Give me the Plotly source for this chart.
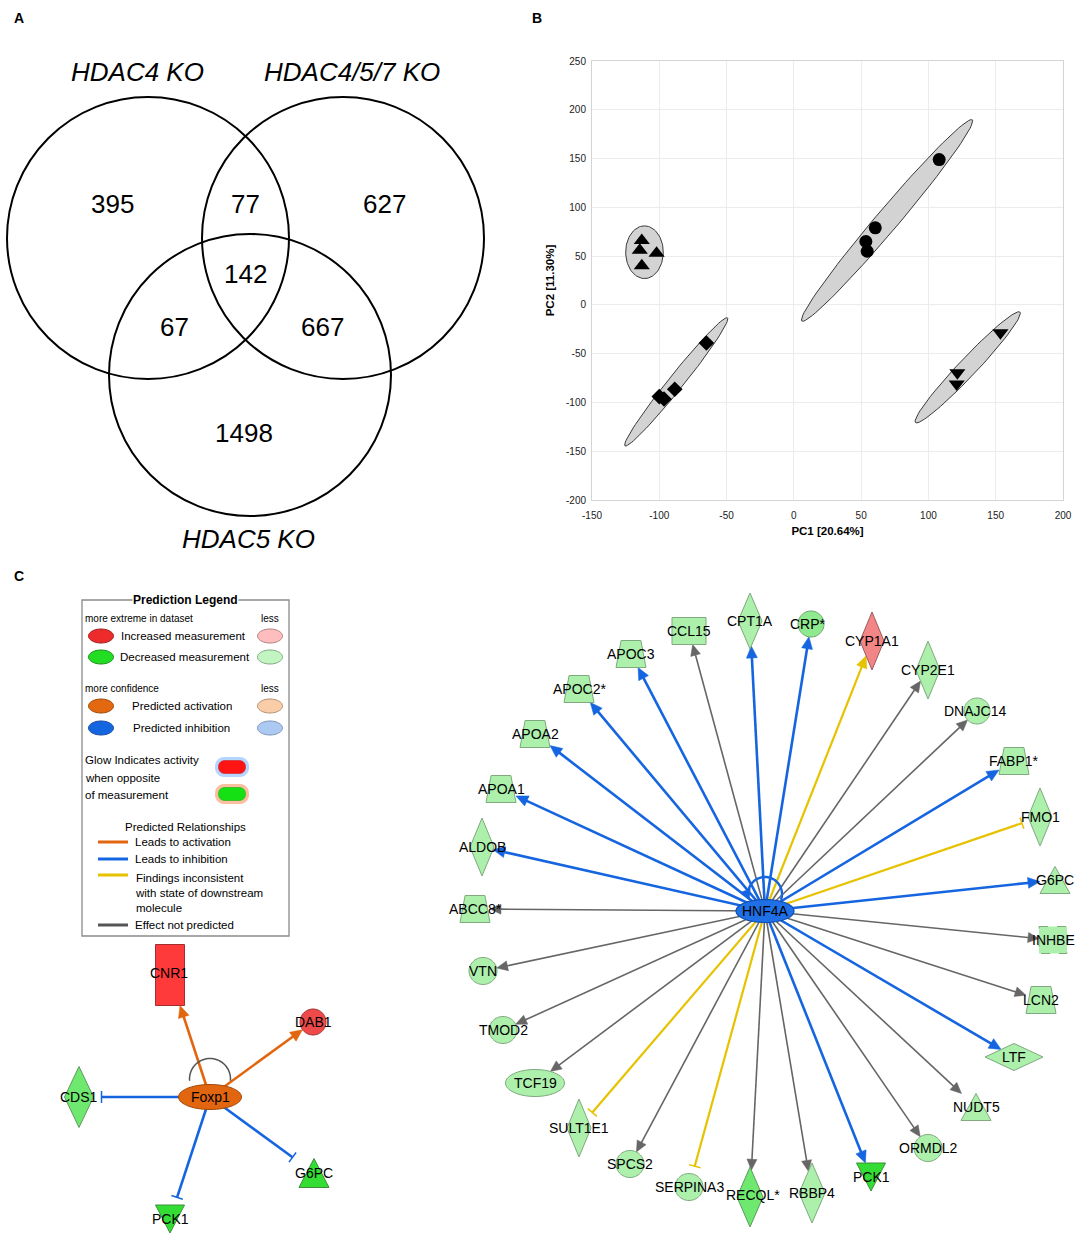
import math
import plotly.graph_objects as go

W, H = 1084, 1247
FONT = "Liberation Sans, Arial, Helvetica, sans-serif"

# ======================= DATA =======================
# ---- Panel A: Venn diagram
venn_sets = ["HDAC4 KO", "HDAC4/5/7 KO", "HDAC5 KO"]
venn_regions = ["HDAC4 only", "HDAC4 & HDAC4/5/7", "HDAC4/5/7 only", "all three",
                "HDAC4 & HDAC5", "HDAC4/5/7 & HDAC5", "HDAC5 only"]
venn_counts = [395, 77, 627, 142, 67, 667, 1498]

# ---- Panel B: PCA scores
pc1_title = "PC1 [20.64%]"
pc2_title = "PC2 [11.30%]"
pc1_ticks = [-150, -100, -50, 0, 50, 100, 150, 200]
pc2_ticks = [-200, -150, -100, -50, 0, 50, 100, 150, 200, 250]
g_tri_pc1 = [-113, -114.5, -102, -113]
g_tri_pc2 = [66, 56, 53, 40]
g_circ_pc1 = [108, 60.5, 53.5, 54.5]
g_circ_pc2 = [149, 79, 65, 55]
g_diam_pc1 = [-65, -88.5, -100, -96.5]
g_diam_pc2 = [-39, -86.5, -94, -96.5]
g_inv_pc1 = [153.5, 121.5, 121]
g_inv_pc2 = [-28.5, -69.5, -81]
# confidence ellipses: both ends of the major axis (PC1, PC2, PC1, PC2)
ell_tri = (-111, 27, -111, 81)
ell_circ = (5.9, -16.6, 132.6, 189.7)
ell_diam = (-125.5, -144.5, -49.3, -13.3)
ell_inv = (90.4, -120.6, 168.0, -7.4)

# ---- Panel C: HNF4A network
hub_right = "HNF4A"
right_targets = ["CPT1A", "CCL15", "CRP*", "CYP1A1", "APOC3", "CYP2E1", "APOC2*", "DNAJC14",
                 "APOA2", "FABP1*", "APOA1", "FMO1", "ALDOB", "G6PC", "ABCC8*", "INHBE", "VTN",
                 "LCN2", "TMOD2", "LTF", "TCF19", "NUDT5", "SULT1E1", "ORMDL2", "SPCS2",
                 "SERPINA3", "RECQL*", "RBBP4", "PCK1"]
right_relation = ["inhibition", "none", "inhibition", "inconsistent", "inhibition", "none",
                  "inhibition", "none", "inhibition", "inhibition", "inhibition", "inconsistent",
                  "inhibition", "inhibition", "none", "none", "none", "none", "none",
                  "inhibition", "none", "none", "inconsistent", "none", "none",
                  "inconsistent", "none", "none", "inhibition"]
right_end = ["arrow", "arrow", "arrow", "arrow", "arrow", "arrow", "arrow", "arrow", "arrow",
             "arrow", "arrow", "bar", "arrow", "arrow", "arrow", "arrow", "arrow", "arrow",
             "arrow", "arrow", "arrow", "arrow", "bar", "arrow", "arrow", "bar", "arrow",
             "arrow", "arrow"]
right_state = ["dn1", "dn1", "dn2", "up1", "dn1", "dn1", "dn1", "dn1", "dn1", "dn1", "dn1",
               "dn1", "dn1", "dn1", "dn1", "dn1", "dn1", "dn1", "dn1", "dn1", "dn1", "dn1",
               "dn1", "dn1", "dn1", "dn1", "dn3", "dn1", "dn4"]

# ---- Panel C: Foxp1 network
hub_left = "Foxp1"
left_targets = ["CNR1", "DAB1", "CDS1", "G6PC", "PCK1"]
left_relation = ["activation", "activation", "inhibition", "inhibition", "inhibition"]
left_end = ["arrow", "arrow", "bar", "bar", "bar"]
left_state = ["up3", "up2", "dn3", "dn4", "dn4"]

# ---- Panel C: legend texts
legend_title = "Prediction Legend"
legend_rows = ["Increased measurement", "Decreased measurement",
               "Predicted activation", "Predicted inhibition"]
legend_rel = ["Leads to activation", "Leads to inhibition",
              "Findings inconsistent<br>with state of downstream<br>molecule",
              "Effect not predicted"]

# ======================= LAYOUT / STYLE =======================
venn_circles = [(148, 238), (343, 238), (250, 375)]
venn_r = 141
venn_set_pos = [(137, 72), (352, 72), (248, 539)]
venn_count_pos = [(112, 204), (245, 204), (384, 204), (245, 274), (174, 327), (322, 327), (244, 433)]

PCA_X = (592, 1063)
PCA_Y = (61, 500)
KX = (PCA_X[1] - PCA_X[0]) / 350.0
KY = (PCA_Y[1] - PCA_Y[0]) / 450.0

HUB_R = (765, 911, 58, 23)
right_layout = {
    "CPT1A": (750, 621, "diamond", 24, 56), "CCL15": (689, 631, "rect", 34, 27),
    "CRP*": (811, 624, "ellipse", 26, 26), "CYP1A1": (872, 641, "diamond", 24, 58),
    "APOC3": (631, 654, "trap", 30, 27), "CYP2E1": (928, 670, "diamond", 24, 58),
    "APOC2*": (579, 689, "trap", 30, 27), "DNAJC14": (977, 711, "ellipse", 26, 26),
    "APOA2": (535, 734, "trap", 30, 27), "FABP1*": (1014, 761, "trap", 30, 27),
    "APOA1": (501, 789, "trap", 30, 27), "FMO1": (1040, 817, "diamond", 24, 58),
    "ALDOB": (482, 847, "diamond", 24, 58), "G6PC": (1055, 880, "tri", 30, 27),
    "ABCC8*": (475, 909, "trap", 30, 27), "INHBE": (1053, 940, "dashrect", 28, 27),
    "VTN": (483, 971, "ellipse", 28, 27), "LCN2": (1041, 1000, "trap", 30, 27),
    "TMOD2": (503, 1030, "ellipse", 28, 27), "LTF": (1014, 1057, "diamond", 58, 27),
    "TCF19": (535, 1083, "ellipse", 59, 27), "NUDT5": (976, 1107, "tri", 30, 27),
    "SULT1E1": (579, 1128, "diamond", 24, 58), "ORMDL2": (928, 1148, "ellipse", 28, 27),
    "SPCS2": (630, 1164, "ellipse", 28, 27), "SERPINA3": (689, 1187, "ellipse", 28, 27),
    "RECQL*": (750, 1197, "diamond", 26, 60), "RBBP4": (812, 1193, "diamond", 26, 60),
    "PCK1": (871, 1177, "tridown", 29, 28),
}
right_label_off = {"CRP*": (-3, 0), "DNAJC14": (-2, 0), "ABCC8*": (0, 0), "RECQL*": (3, -2)}

HUB_L = (210, 1097, 63, 25)
left_layout = {
    "CNR1": (170, 975, "rect", 29, 61), "DAB1": (313, 1022, "ellipse", 26, 26),
    "CDS1": (79, 1097, "diamond", 29, 61), "G6PC": (314, 1173, "tri", 30, 29),
    "PCK1": (170, 1219, "tridown", 29, 28),
}

STATE_FILL = {"dn1": "#acf0ac", "dn2": "#8fe98f", "dn3": "#6fe86f", "dn4": "#33dd33",
              "up1": "#f28686", "up2": "#ee4a4a", "up3": "#ff3a3a"}
STATE_LINE = {"dn1": "#7fa97f", "dn2": "#6f9f6f", "dn3": "#5f995f", "dn4": "#3c8f3c",
              "up1": "#a05a5a", "up2": "#a03a3a", "up3": "#a03030"}
REL_STYLE = {  # color, width, head length, head half-width
    "inhibition": ("#1565e0", 2.6, 12, 5.5),
    "none": ("#666666", 1.6, 11, 5),
    "inconsistent": ("#e6c200", 2.2, 12, 5.5),
    "activation": ("#e2650f", 2.6, 12, 5.5),
}

shapes = []
annotations = []


def poly(pts, close=True):
    s = "M " + " L ".join(f"{x:.2f},{y:.2f}" for x, y in pts)
    return s + (" Z" if close else "")


def add_path(path, fill, lc, lw=1.0, dash="solid"):
    shapes.append(dict(type="path", path=path, xref="x2", yref="y2", fillcolor=fill,
                       line=dict(color=lc, width=lw, dash=dash), layer="above"))


def add_line(x0, y0, x1, y1, color, width):
    shapes.append(dict(type="line", x0=x0, y0=y0, x1=x1, y1=y1, xref="x2", yref="y2",
                       line=dict(color=color, width=width), layer="above"))


def add_text(x, y, s, size=14, color="black", xanchor="center", bg=None, family=FONT):
    a = dict(x=x, y=y, xref="x2", yref="y2", text=s, showarrow=False, xanchor=xanchor,
             yanchor="middle", font=dict(size=size, color=color, family=family), borderpad=0)
    if bg:
        a["bgcolor"] = bg
    annotations.append(a)


def ell_pts(cx, cy, a, b, n=60):
    return [(cx + a * math.cos(2 * math.pi * i / n), cy + b * math.sin(2 * math.pi * i / n))
            for i in range(n)]


def rrect(cx, cy, w, h, r):
    pts = []
    corners = [(cx + w / 2 - r, cy - h / 2 + r, -90), (cx + w / 2 - r, cy + h / 2 - r, 0),
               (cx - w / 2 + r, cy + h / 2 - r, 90), (cx - w / 2 + r, cy - h / 2 + r, 180)]
    for (ox, oy, a0) in corners:
        for k in range(7):
            t = math.radians(a0 + 90 * k / 6)
            pts.append((ox + r * math.cos(t), oy + r * math.sin(t)))
    return poly(pts)


def node_path(shape, cx, cy, w, h):
    a, b = w / 2, h / 2
    if shape == "ellipse":
        pts = ell_pts(cx, cy, a, b)
    elif shape == "diamond":
        pts = [(cx, cy - b), (cx + a, cy), (cx, cy + b), (cx - a, cy)]
    elif shape == "trap":
        pts = [(cx - 0.66 * a, cy - b), (cx + 0.66 * a, cy - b), (cx + a, cy + b), (cx - a, cy + b)]
    elif shape == "tri":
        pts = [(cx, cy - b), (cx + a, cy + b), (cx - a, cy + b)]
    elif shape == "tridown":
        pts = [(cx - a, cy - b), (cx + a, cy - b), (cx, cy + b)]
    else:
        pts = [(cx - a, cy - b), (cx + a, cy - b), (cx + a, cy + b), (cx - a, cy + b)]
    return poly(pts)


def boundary(shape, w, h, ux, uy):
    a, b = w / 2, h / 2
    if shape == "ellipse":
        return 1.0 / math.sqrt((ux / a) ** 2 + (uy / b) ** 2)
    if shape == "diamond":
        return 1.0 / (abs(ux) / a + abs(uy) / b)
    ta = a / abs(ux) if abs(ux) > 1e-9 else 1e9
    tb = b / abs(uy) if abs(uy) > 1e-9 else 1e9
    return min(ta, tb)


def draw_edge(hx, hy, node, relation, end):
    nx, ny, shape, w, h = node
    col, lw, hl, hw = REL_STYLE[relation]
    dx, dy = nx - hx, ny - hy
    L = math.hypot(dx, dy)
    ux, uy = dx / L, dy / L
    t = boundary(shape, w, h, -ux, -uy)
    tx, ty = nx - ux * t, ny - uy * t
    if end == "arrow":
        bx, by = tx - ux * hl, ty - uy * hl
        add_line(hx, hy, bx + ux * 2, by + uy * 2, col, lw)
        add_path(poly([(tx, ty), (bx - uy * hw, by + ux * hw), (bx + uy * hw, by - ux * hw)]),
                 col, col, 0.5)
    else:
        ex, ey = tx - ux * 8, ty - uy * 8
        add_line(hx, hy, ex, ey, col, lw)
        add_line(ex - uy * 6, ey + ux * 6, ex + uy * 6, ey - ux * 6, col, 1.5)


def draw_node(name, node, state, off=(0, 0), size=14):
    nx, ny, shape, w, h = node
    add_path(node_path(shape, nx, ny, w, h), STATE_FILL[state], STATE_LINE[state], 1.0,
             "dash" if shape == "dashrect" else "solid")
    add_text(nx + off[0], ny + off[1], name, size=size)


# ---------------- Panel A: Venn ----------------
for (cx, cy) in venn_circles:
    shapes.append(dict(type="circle", xref="x2", yref="y2", x0=cx - venn_r, x1=cx + venn_r,
                       y0=cy - venn_r, y1=cy + venn_r, line=dict(color="black", width=2),
                       fillcolor="rgba(0,0,0,0)", layer="above"))
for name, (x, y) in zip(venn_sets, venn_set_pos):
    add_text(x, y, f"<i>{name}</i>", size=26)
for cnt, (x, y) in zip(venn_counts, venn_count_pos):
    add_text(x, y, str(cnt), size=26)

# ---------------- Panel letters ----------------
add_text(13, 18, "<b>A</b>", size=14, xanchor="left")
add_text(531, 18, "<b>B</b>", size=14, xanchor="left")
add_text(13, 576, "<b>C</b>", size=14, xanchor="left")

# ---------------- Panel C: legend ----------------
lx0, ly0, lx1, ly1 = 82, 600, 289, 936
shapes.append(dict(type="rect", xref="x2", yref="y2", x0=lx0, y0=ly0, x1=lx1, y1=ly1,
                   line=dict(color="#8a8a8a", width=1.3), fillcolor="white", layer="above"))
add_text(185, 600, f"<b>{legend_title}</b>", size=12, bg="white")
add_text(84, 618, "more extreme in dataset", size=10, xanchor="left")
add_text(270, 618, "less", size=10)
add_text(84, 688, "more confidence", size=10, xanchor="left")
add_text(270, 688, "less", size=10)
leg_strong = ["#ee2b2b", "#22dd22", "#e2690f", "#1466e0"]
leg_strong_l = ["#9a2222", "#1f8a1f", "#9a4a10", "#1a4aa0"]
leg_weak = ["#ffbdbd", "#c2f5c2", "#f8cda8", "#abc9f2"]
leg_weak_l = ["#b08080", "#80a880", "#b09070", "#7f95b8"]
leg_y = [636, 657, 706, 728]
leg_tx = [120, 119, 131, 132]
for i in range(4):
    add_path(poly(ell_pts(101, leg_y[i], 12.5, 7)), leg_strong[i], leg_strong_l[i], 1)
    add_path(poly(ell_pts(270, leg_y[i], 12.5, 7)), leg_weak[i], leg_weak_l[i], 1)
    add_text(leg_tx[i], leg_y[i], legend_rows[i], size=11.5, xanchor="left")
add_text(84, 760, "Glow Indicates activity", size=11.5, xanchor="left")
add_text(84, 778, "when opposite", size=11.5, xanchor="left")
add_text(84, 795, "of measurement", size=11.5, xanchor="left")
add_path(rrect(232, 767, 34, 20, 9), "rgba(120,180,255,0.55)", "rgba(0,0,0,0)", 0)
add_path(rrect(232, 767, 27, 13, 6), "#ff1414", "#cc1010", 0.5)
add_path(rrect(232, 794, 34, 20, 9), "rgba(245,150,95,0.6)", "rgba(0,0,0,0)", 0)
add_path(rrect(232, 794, 27, 13, 6), "#14e014", "#10a010", 0.5)
add_text(185, 827, "Predicted Relationships", size=11.5)
rel_cols = ["#e2650f", "#1466e0", "#e6c200", "#555555"]
rel_ly = [842, 859, 875, 925]
rel_ty = [842, 859, 893, 925]
for i in range(4):
    add_line(98, rel_ly[i], 128, rel_ly[i], rel_cols[i], 3)
    add_text(134, rel_ty[i], legend_rel[i], size=11.5, xanchor="left")
annotations[-2]["align"] = "left"

# ---------------- Panel C: Foxp1 network ----------------
hx, hy, hw_, hh_ = HUB_L
for name, rel, end in zip(left_targets, left_relation, left_end):
    draw_edge(hx, hy, left_layout[name], rel, end)
arc = [(hx + 20.5 * math.cos(math.radians(a)), hy - 18 - 20.5 * math.sin(math.radians(a)))
       for a in range(-5, 186, 5)]
add_path(poly(arc, close=False), "rgba(0,0,0,0)", "#555555", 1.5)
for name, st in zip(left_targets, left_state):
    draw_node(name, left_layout[name], st, (-1, -2) if name == "CNR1" else (0, 0))
add_path(poly(ell_pts(hx, hy, hw_ / 2, hh_ / 2)), "#e2650f", "#a04a08", 1)
add_text(hx, hy, hub_left, size=14)

# ---------------- Panel C: HNF4A network ----------------
hx, hy, hw_, hh_ = HUB_R
for name, rel, end in zip(right_targets, right_relation, right_end):
    draw_edge(hx, hy, right_layout[name], rel, end)
lcx, lcy, lr = hx, hy - 17, 17
arc = [(lcx + lr * math.cos(math.radians(a)), lcy - lr * math.sin(math.radians(a)))
       for a in range(-20, 196, 5)]
add_path(poly(arc, close=False), "rgba(0,0,0,0)", "#1565e0", 2.4)
ta = math.radians(200)
tipx, tipy = lcx + lr * math.cos(ta), lcy - lr * math.sin(ta)
dxu, dyu = -math.sin(ta), -math.cos(ta)
bx, by = tipx - dxu * 10, tipy - dyu * 10
add_path(poly([(tipx, tipy), (bx - dyu * 5, by + dxu * 5), (bx + dyu * 5, by - dxu * 5)]),
         "#1565e0", "#1565e0", 0.5)
for name, st in zip(right_targets, right_state):
    draw_node(name, right_layout[name], st, right_label_off.get(name, (0, 0)))
add_path(poly(ell_pts(hx, hy, hw_ / 2, hh_ / 2)), "#1f6fe6", "#114fb0", 1.2)
add_text(hx, hy, hub_right, size=14)

# ======================= FIGURE =======================
fig = go.Figure()


def conf_ellipse(e, half_w_px, n=90):
    x1, y1, x2, y2 = e
    cx, cy = (x1 + x2) / 2, (y1 + y2) / 2
    ux, uy = (x2 - x1) / 2 * KX, (y2 - y1) / 2 * KY
    L = math.hypot(ux, uy)
    vx, vy = -uy / L * half_w_px, ux / L * half_w_px
    xs, ys = [], []
    for i in range(n + 1):
        t = 2 * math.pi * i / n
        xs.append(cx + (math.cos(t) * ux + math.sin(t) * vx) / KX)
        ys.append(cy + (math.cos(t) * uy + math.sin(t) * vy) / KY)
    return xs, ys


for e, hwpx in [(ell_tri, 18.8), (ell_circ, 11), (ell_diam, 7.5), (ell_inv, 9)]:
    xs, ys = conf_ellipse(e, hwpx)
    fig.add_trace(go.Scatter(x=xs, y=ys, mode="lines", fill="toself", fillcolor="#d3d3d3",
                             line=dict(color="#3a3a3a", width=1), hoverinfo="skip",
                             showlegend=False, xaxis="x", yaxis="y"))

for xs, ys, sym, sz in [(g_tri_pc1, g_tri_pc2, "triangle-up", 14),
                        (g_circ_pc1, g_circ_pc2, "circle", 13),
                        (g_diam_pc1, g_diam_pc2, "diamond", 12),
                        (g_inv_pc1, g_inv_pc2, "triangle-down", 14)]:
    fig.add_trace(go.Scatter(x=xs, y=ys, mode="markers", showlegend=False,
                             marker=dict(symbol=sym, size=sz, color="black", line=dict(width=0)),
                             xaxis="x", yaxis="y"))

fig.add_trace(go.Scatter(x=[None], y=[None], xaxis="x2", yaxis="y2", showlegend=False,
                         hoverinfo="skip"))

fig.update_layout(
    width=W, height=H, autosize=False,
    margin=dict(l=0, r=0, t=0, b=0),
    paper_bgcolor="white", plot_bgcolor="rgba(0,0,0,0)",
    font=dict(family=FONT, color="black"),
    showlegend=False,
    xaxis=dict(domain=[PCA_X[0] / W, PCA_X[1] / W], range=[-150, 200], tickvals=pc1_ticks,
               ticktext=[str(v) for v in pc1_ticks], ticklabelstandoff=6,
               showgrid=True, gridcolor="#ececec", gridwidth=1, zeroline=False,
               showline=True, linecolor="#d4d4d4", linewidth=1, mirror=True, ticks="",
               tickfont=dict(size=10, color="#222222"), automargin=False, anchor="y",
               title=dict(text=f"<b>{pc1_title}</b>", font=dict(size=11.5), standoff=6)),
    yaxis=dict(domain=[1 - PCA_Y[1] / H, 1 - PCA_Y[0] / H], range=[-200, 250],
               tickvals=pc2_ticks, ticktext=[str(v) for v in pc2_ticks], ticklabelstandoff=3,
               showgrid=True, gridcolor="#ececec", gridwidth=1,
               zeroline=False, showline=True, linecolor="#d4d4d4", linewidth=1, mirror=True,
               ticks="", tickfont=dict(size=10, color="#222222"), automargin=False, anchor="x",
               title=dict(text=f"<b>{pc2_title}</b>", font=dict(size=11.5), standoff=8)),
    xaxis2=dict(domain=[0, 1], range=[0, W], visible=False, anchor="y2", fixedrange=True),
    yaxis2=dict(domain=[0, 1], range=[H, 0], visible=False, anchor="x2", fixedrange=True),
    shapes=shapes,
    annotations=annotations,
)

fig.write_html("out.html", config={"displayModeBar": False},
               post_script="document.body.style.margin='0';")
